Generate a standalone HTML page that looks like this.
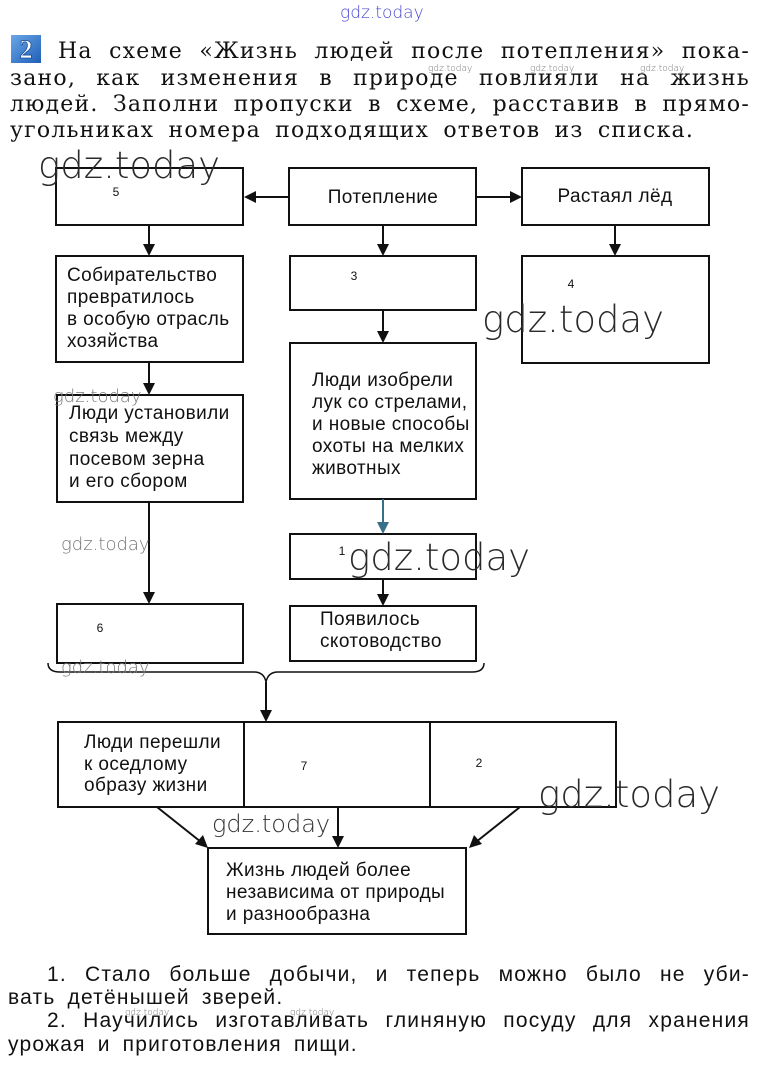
<!DOCTYPE html>
<html><head><meta charset="utf-8">
<style>
html,body{margin:0;padding:0;background:#fff;}
body{width:764px;height:1072px;position:relative;overflow:hidden;}
.t{position:absolute;font-family:"DejaVu Serif","Liberation Serif","Noto Serif CJK SC",serif;font-size:22px;color:#111;white-space:nowrap;line-height:26px;letter-spacing:1.2px;}
.j{text-align:justify;text-align-last:justify;white-space:normal;}
.l{position:absolute;font-family:"Liberation Sans","Noto Sans CJK SC",sans-serif;font-size:21px;color:#111;line-height:24px;white-space:nowrap;letter-spacing:1.2px;}
svg{position:absolute;left:0;top:0;}
</style></head><body>
<svg width="764" height="1072" viewBox="0 0 764 1072" xmlns="http://www.w3.org/2000/svg">
<defs>
<linearGradient id="bg" x1="0" y1="0" x2="1" y2="1"><stop offset="0" stop-color="#6aa6e6"/><stop offset="1" stop-color="#1f5fb8"/></linearGradient>
</defs>
<rect x="11" y="35" width="30" height="28" fill="url(#bg)"/>
<text x="26" y="58" font-family="Liberation Serif, serif" font-weight="bold" font-size="26" fill="#fff" text-anchor="middle" stroke="#1a4f9a" stroke-width="0.8">2</text>

<g fill="none" stroke="#111" stroke-width="2">
<rect x="56" y="168" width="187" height="57"/>
<rect x="289" y="168" width="187" height="57"/>
<rect x="522" y="168" width="187" height="57"/>
<rect x="56" y="256" width="187" height="106"/>
<rect x="290" y="256" width="186" height="54"/>
<rect x="522" y="256" width="187" height="107"/>
<rect x="57" y="395" width="186" height="107"/>
<rect x="290" y="343" width="186" height="156"/>
<rect x="290" y="534" width="186" height="45"/>
<rect x="57" y="604" width="186" height="59"/>
<rect x="290" y="606" width="186" height="55"/>
<rect x="58" y="722" width="558" height="85"/>
<line x1="244" y1="722" x2="244" y2="807"/>
<line x1="430" y1="722" x2="430" y2="807"/>
<rect x="208" y="848" width="258" height="86"/>
</g>

<g stroke="#111" stroke-width="2" fill="none">
<line x1="289" y1="197" x2="254" y2="197"/>
<line x1="476" y1="197" x2="512" y2="197"/>
<line x1="149" y1="225" x2="149" y2="246"/>
<line x1="149" y1="362" x2="149" y2="385"/>
<line x1="149" y1="502" x2="149" y2="594"/>
<line x1="383" y1="225" x2="383" y2="246"/>
<line x1="383" y1="310" x2="383" y2="333"/>
<line x1="383" y1="499" x2="383" y2="524" stroke="#3a6f8a"/>
<line x1="383" y1="579" x2="383" y2="596"/>
<line x1="615" y1="225" x2="615" y2="246"/>
<line x1="266" y1="682" x2="266" y2="712"/>
<line x1="157" y1="807" x2="201" y2="842"/>
<line x1="338" y1="807" x2="338" y2="838"/>
<line x1="520" y1="807" x2="476" y2="842"/>
<path d="M48,663 Q48,672 60,672 L254,672 Q264,672 266,682 Q268,672 278,672 L472,672 Q484,672 484,663" stroke-width="1.5"/>
</g>
<g fill="#111">
<polygon points="244,197 256,191 256,203"/>
<polygon points="522,197 510,191 510,203"/>
<polygon points="149,256 143,244 155,244"/>
<polygon points="149,395 143,383 155,383"/>
<polygon points="149,604 143,592 155,592"/>
<polygon points="383,256 377,244 389,244"/>
<polygon points="383,343 377,331 389,331"/>
<polygon points="383,534 377,522 389,522" fill="#3a6f8a"/>
<polygon points="383,606 377,594 389,594"/>
<polygon points="615,256 609,244 621,244"/>
<polygon points="266,722 260,710 272,710"/>
<polygon points="208,848 195,844 203,835"/>
<polygon points="338,848 332,836 344,836"/>
<polygon points="469,848 474,835 482,844"/>
</g>

<g font-family="'Liberation Sans', 'Noto Sans CJK SC', sans-serif" font-size="19" fill="#111" letter-spacing="0.4">
<text x="383" y="203" text-anchor="middle">Потепление</text>
<text x="615" y="202" text-anchor="middle">Растаял лёд</text>
<text x="67" y="281">Собирательство</text>
<text x="67" y="303">превратилось</text>
<text x="67" y="325">в особую отрасль</text>
<text x="67" y="347">хозяйства</text>
<text x="69" y="419">Люди установили</text>
<text x="69" y="442">связь между</text>
<text x="69" y="465">посевом зерна</text>
<text x="69" y="487">и его сбором</text>
<text x="312" y="386">Люди изобрели</text>
<text x="312" y="408">лук со стрелами,</text>
<text x="312" y="430">и новые способы</text>
<text x="312" y="452">охоты на мелких</text>
<text x="312" y="474">животных</text>
<text x="320" y="625">Появилось</text>
<text x="320" y="647">скотоводство</text>
<text x="84" y="748">Люди перешли</text>
<text x="84" y="770">к оседлому</text>
<text x="84" y="791">образу жизни</text>
<text x="226" y="876">Жизнь людей более</text>
<text x="226" y="898">независима от природы</text>
<text x="226" y="920">и разнообразна</text>
</g>

<g font-family="'Liberation Sans', sans-serif" font-size="12" fill="#111">
<text x="116" y="196" text-anchor="middle">5</text>
<text x="354" y="280" text-anchor="middle">3</text>
<text x="571" y="288" text-anchor="middle">4</text>
<text x="342" y="555" text-anchor="middle">1</text>
<text x="100" y="632" text-anchor="middle">6</text>
<text x="304" y="770" text-anchor="middle">7</text>
<text x="479" y="767" text-anchor="middle">2</text>
</g>

<g font-family="'DejaVu Sans', 'Liberation Sans', sans-serif" font-weight="200" fill="#2a2a2a">
<text x="38" y="178" font-size="37">gdz.today</text>
<text x="482" y="332" font-size="37">gdz.today</text>
<text x="348" y="570" font-size="37">gdz.today</text>
<text x="538" y="807" font-size="37">gdz.today</text>
<text x="212" y="832" font-size="24" fill="#333">gdz.today</text>
<text x="53" y="402" font-size="18" fill="#777">gdz.today</text>
<text x="61" y="550" font-size="18" fill="#777">gdz.today</text>
<text x="61" y="673" font-size="18" fill="#777">gdz.today</text>
<text x="340" y="18" font-size="17" fill="#4a4ad0">gdz.today</text>
<text x="428" y="71" font-size="9" fill="#777">gdz.today</text>
<text x="530" y="71" font-size="9" fill="#777">gdz.today</text>
<text x="640" y="71" font-size="9" fill="#777">gdz.today</text>
<text x="125" y="1015" font-size="9" fill="#777">gdz.today</text>
<text x="290" y="1015" font-size="9" fill="#777">gdz.today</text>
</g>
</svg>

<div class="t j" style="left:58px;top:39px;width:692px;">На схеме «Жизнь людей после потепления» пока-</div>
<div class="t j" style="left:10px;top:66px;width:740px;">зано, как изменения в природе повлияли на жизнь</div>
<div class="t j" style="left:10px;top:92px;width:740px;">людей. Заполни пропуски в схеме, расставив в прямо-</div>
<div class="t" style="left:10px;top:118px;word-spacing:6px;">угольниках номера подходящих ответов из списка.</div>

<div class="l j" style="left:47px;top:963px;width:703px;">1. Стало больше добычи, и теперь можно было не уби-</div>
<div class="l" style="left:8px;top:986px;word-spacing:5px;">вать детёнышей зверей.</div>
<div class="l j" style="left:47px;top:1009px;width:703px;">2. Научились изготавливать глиняную посуду для хранения</div>
<div class="l" style="left:8px;top:1033px;word-spacing:5px;">урожая и приготовления пищи.</div>
</body></html>
